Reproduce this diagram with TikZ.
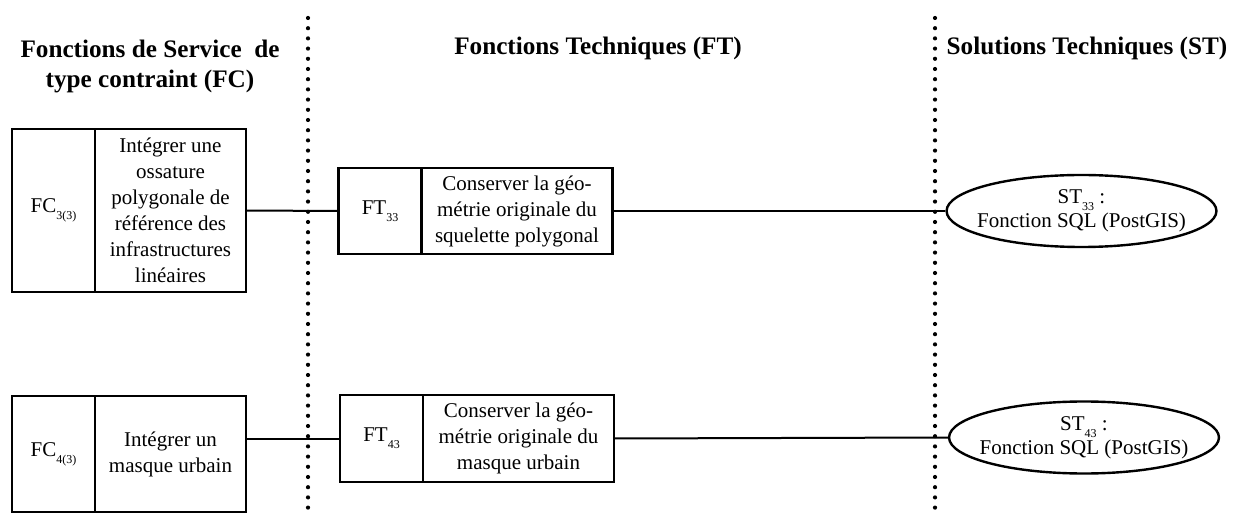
\documentclass[tikz,border=0pt]{standalone}
\usepackage{fontspec}
\setmainfont{Liberation Serif}
\usepackage{tikz}
\usetikzlibrary{positioning,shapes.geometric}
\newcommand{\lowsub}[1]{\raisebox{-0.75ex}{\fontsize{6}{7}\selectfont #1}}
\tikzset{
  basebox/.style={rectangle,draw=black,line width=1.3pt,outer sep=0pt,inner sep=1pt,align=center,font=\fontsize{10.5}{13}\selectfont},
  idcell/.style={basebox,minimum width=41.5pt},
  fctxt/.style={basebox,minimum width=75.5pt},
  fttxt/.style={basebox,minimum width=95.5pt},
  stnode/.style={ellipse,draw=black,line width=1.2pt,inner xsep=-4.5pt,inner ysep=0.5pt,minimum width=131.5pt,minimum height=36pt,align=center,font=\fontsize{10.5}{12}\selectfont},
  headnode/.style={align=center,font=\fontsize{12.6}{15}\selectfont\bfseries},
  link/.style={line width=1pt},
  seprule/.style={line width=2.1pt,line cap=round,dash pattern=on 0pt off 5.1pt}
}
\begin{document}
\begin{tikzpicture}[x=0.5pt,y=-0.5pt]
  \useasboundingbox (0,0) rectangle (1234,517);

  %% Column headers
  \node[headnode] (hfc) at (150,66) {Fonctions de Service~~de\\type contraint (FC)};
  \node[headnode] (hft) at (598,48) {Fonctions Techniques (FT)};
  \node[headnode] (hst) at (1087,48) {Solutions Techniques (ST)};

  %% Column separators
  \coordinate (sepa) at (308,18);
  \coordinate (sepb) at (308,517);
  \coordinate (sepc) at (935,18);
  \coordinate (sepd) at (935,517);
  \draw[seprule] (sepa) -- (sepb);
  \draw[seprule] (sepc) -- (sepd);

  %% First row
  \node[idcell,minimum height=81.5pt] (fc33id) at (53.5,210.5) {FC\lowsub{3(3)}};
  \node[fctxt,minimum height=81.5pt,right=0pt of fc33id] (fc33txt)
    {Intégrer une\\ossature\\polygonale de\\référence des\\infrastructures\\linéaires};
  \node[idcell,minimum height=43pt] (ft33id) at (380,211) {FT\lowsub{33}};
  \node[fttxt,minimum height=43pt,right=0pt of ft33id] (ft33txt)
    {Conserver la géo-\\métrie originale du\\squelette polygonal};
  \node[stnode] (st33) at (1081.5,211) {ST\lowsub{33} :\\Fonction SQL (PostGIS)};
  \draw[link] (fc33txt.east) -- (ft33id.west);
  \draw[link] (ft33txt.east) -- (st33.west);

  %% Second row
  \node[idcell,minimum height=58pt] (fc43id) at (53.5,454) {FC\lowsub{4(3)}};
  \node[fctxt,minimum height=58pt,right=0pt of fc43id] (fc43txt)
    {Intégrer un\\masque urbain};
  \node[idcell,minimum height=43.5pt] (ft43id) at (381.5,438.5) {FT\lowsub{43}};
  \node[fttxt,minimum height=43.5pt,right=0pt of ft43id] (ft43txt)
    {Conserver la géo-\\métrie originale du\\masque urbain};
  \node[stnode] (st43) at (1084,437.5) {ST\lowsub{43} :\\Fonction SQL (PostGIS)};
  \draw[link] (ft43id.west -| fc43txt.east) -- (ft43id.west);
  \draw[link] (ft43txt.east) -- (st43.west);
\end{tikzpicture}
\end{document}
